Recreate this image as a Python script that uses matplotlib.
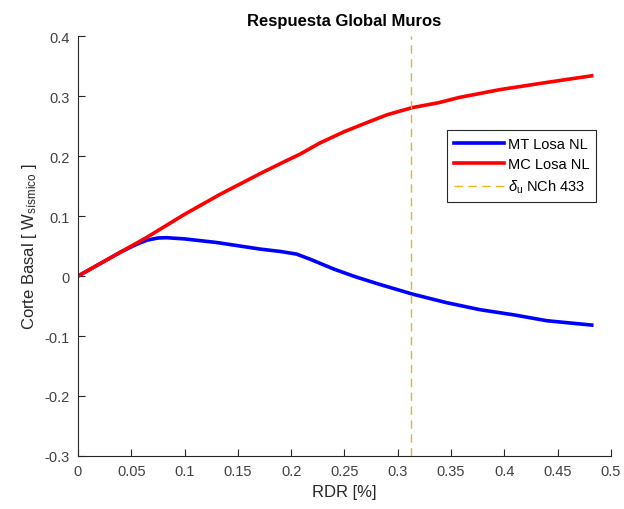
import matplotlib
matplotlib.use('Agg')
import matplotlib.pyplot as plt
from matplotlib.ticker import MultipleLocator, FuncFormatter

plt.rcParams['font.family'] = ['Liberation Sans', 'DejaVu Sans']
plt.rcParams['mathtext.fontset'] = 'custom'
plt.rcParams['mathtext.rm'] = 'Liberation Sans'
plt.rcParams['mathtext.it'] = 'Liberation Sans:italic'
plt.rcParams['axes.unicode_minus'] = False

# datos
rdr_mt = [0, 0.02, 0.04, 0.055, 0.065, 0.075, 0.083, 0.1, 0.13, 0.171, 0.19,
          0.205, 0.218, 0.24, 0.26, 0.282, 0.3137, 0.345, 0.377, 0.41, 0.44, 0.482]
v_mt = [0, 0.02, 0.04, 0.053, 0.06, 0.0635, 0.064, 0.062, 0.056, 0.045, 0.041,
        0.0367, 0.028, 0.0117, -0.001, -0.0133, -0.030, -0.044, -0.056, -0.065,
        -0.0745, -0.0817]

rdr_mc = [0, 0.02, 0.04, 0.065, 0.1, 0.133, 0.171, 0.195, 0.208, 0.227, 0.25,
          0.274, 0.29, 0.3137, 0.338, 0.358, 0.396, 0.44, 0.482]
v_mc = [0, 0.02, 0.04, 0.065, 0.103, 0.136, 0.171, 0.192, 0.203, 0.222, 0.241,
        0.258, 0.269, 0.281, 0.289, 0.298, 0.311, 0.323, 0.334]

delta_u = 0.312

fig = plt.figure(figsize=(6.24, 5.1), dpi=100)
ax = fig.add_axes([0.125, 0.104, 0.854, 0.823])

ax.plot(rdr_mt, v_mt, color='#0000ff', lw=2.6, label='MT Losa NL')
ax.plot(rdr_mc, v_mc, color='#ff0000', lw=2.6, label='MC Losa NL')
ax.axvline(delta_u, color='#EDB120', lw=1.0, ls=(0, (6, 4)),
           label='$\\delta_{\\mathrm{u}}$ NCh 433')

ax.set_xlim(0, 0.5)
ax.set_ylim(-0.3, 0.4)
ax.xaxis.set_major_locator(MultipleLocator(0.05))
ax.yaxis.set_major_locator(MultipleLocator(0.1))
fmt = FuncFormatter(lambda v, p: '%g' % round(v, 3))
ax.xaxis.set_major_formatter(fmt)
ax.yaxis.set_major_formatter(fmt)

for s in ['top', 'right']:
    ax.spines[s].set_visible(False)
for s in ['left', 'bottom']:
    ax.spines[s].set_color('#262626')
    ax.spines[s].set_linewidth(0.8)
ax.tick_params(direction='in', length=5, width=0.8, colors='#262626',
               labelcolor='#404040', labelsize=10.5, pad=6)

ax.set_xlabel('RDR [%]', fontsize=12, color='#262626')
ax.set_ylabel('Corte Basal [ W$_{\\mathrm{sísmico}}$ ]', fontsize=12, color='#262626')
ax.set_title('Respuesta Global Muros', fontsize=12, fontweight='bold', pad=8)

leg = ax.legend(loc='upper right', bbox_to_anchor=(0.972, 0.776), fontsize=10.5,
                fancybox=False, framealpha=1, edgecolor='#262626', borderaxespad=0,
                handlelength=3.4, borderpad=0.45, labelspacing=0.45, handletextpad=0.3)
leg.get_frame().set_linewidth(0.8)

fig.savefig('out.png', dpi=100)
